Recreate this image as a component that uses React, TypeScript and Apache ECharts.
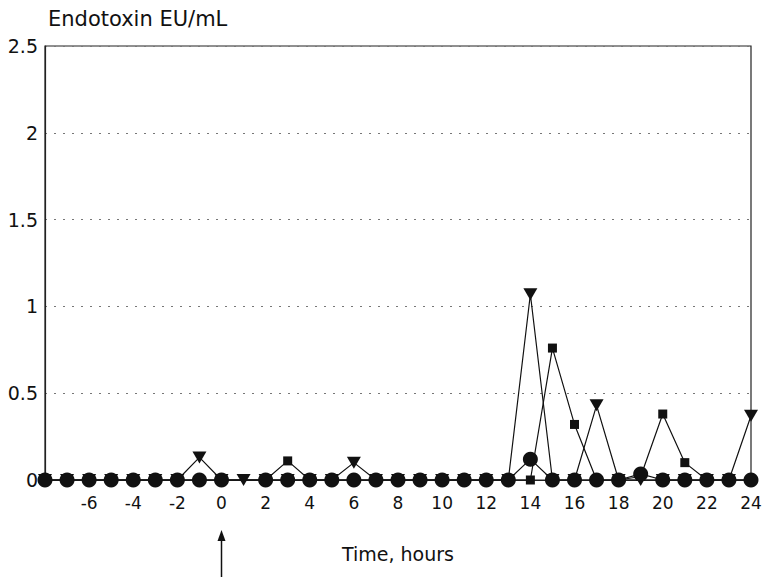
import React, { useEffect, useRef } from "react";
import * as echarts from "echarts";

const hours = [-8, -7, -6, -5, -4, -3, -2, -1, 0, 1, 2, 3, 4, 5, 6, 7, 8, 9, 10, 11, 12, 13, 14, 15, 16, 17, 18, 19, 20, 21, 22, 23, 24];
// circles
const seriesCircle = [0, 0, 0, 0, 0, 0, 0, 0, 0, null, 0, 0, 0, 0, 0, 0, 0, 0, 0, 0, 0, 0, 0.12, 0, 0, 0, 0, 0.035, 0, 0, 0, 0, 0];
// squares
const seriesSquare = [0, 0, 0, 0, 0, 0, 0, 0, 0, null, 0, 0.11, 0, 0, 0, 0, 0, 0, 0, 0, 0, 0, 0, 0.76, 0.32, 0, 0, 0.02, 0.38, 0.1, 0, 0, 0];
// triangles
const seriesTriangle = [0, 0, 0, 0, 0, 0, 0, 0.13, 0, 0, 0, 0, 0, 0, 0.1, 0, 0, 0, 0, 0, 0, 0, 1.07, 0, 0, 0.43, 0, 0, 0, 0, 0, 0, 0.37];

const yTicks = [0, 0.5, 1, 1.5, 2, 2.5];
const xLabelsShown = [-6, -4, -2, 0, 2, 4, 6, 8, 10, 12, 14, 16, 18, 20, 22, 24];

const FONT = "'DejaVu Sans', 'Liberation Sans', Arial, sans-serif";

export default function App() {
  const ref = useRef<HTMLDivElement>(null);
  useEffect(() => {
    if (!ref.current) return;
    const chart = echarts.init(ref.current, null, { renderer: "svg" });
    const pair = (arr: (number | null)[]) => hours.map((h, i) => [h, arr[i]]);
    const lineStyle = { color: "#111", width: 1.2 };
    chart.setOption({
      animation: false,
      backgroundColor: "#fff",
      title: {
        text: "Endotoxin EU/mL",
        left: 43,
        top: 3,
        textStyle: { fontFamily: FONT, fontSize: 21, fontWeight: "normal", color: "#111" },
      },
      grid: {
        left: 45,
        right: 14,
        top: 46,
        bottom: 98,
        show: true,
        borderColor: "#222",
        borderWidth: 1.2,
        backgroundColor: "transparent",
      },
      xAxis: {
        type: "value",
        min: -8,
        max: 24,
        interval: 2,
        name: "Time, hours",
        nameLocation: "middle",
        nameGap: 64,
        nameTextStyle: { fontFamily: FONT, fontSize: 19, color: "#111" },
        axisLine: { show: true, onZero: false, lineStyle: { color: "#222", width: 1.2 } },
        axisTick: { show: false },
        splitLine: { show: false },
        axisLabel: {
          margin: 14,
          fontFamily: FONT,
          fontSize: 17,
          color: "#111",
          formatter: (v: number) => (xLabelsShown.includes(v) ? String(v) : ""),
        },
      },
      yAxis: {
        type: "value",
        min: yTicks[0],
        max: yTicks[yTicks.length - 1],
        interval: 0.5,
        axisLine: { show: true, onZero: false, lineStyle: { color: "#222", width: 1.2 } },
        axisTick: { show: false },
        axisLabel: {
          margin: 7,
          fontFamily: FONT,
          fontSize: 19,
          color: "#111",
        },
        splitLine: {
          show: true,
          lineStyle: { color: "#777", type: [2, 7], width: 1 },
        },
      },
      series: [
        {
          name: "Squares",
          type: "line",
          data: pair(seriesSquare),
          symbol: "rect",
          symbolSize: 9,
          connectNulls: true,
          lineStyle,
          itemStyle: { color: "#111" },
          z: 2,
        },
        {
          name: "Triangles",
          type: "line",
          data: pair(seriesTriangle),
          symbol: "triangle",
          symbolSize: [14, 12],
          symbolRotate: 180,
          connectNulls: true,
          lineStyle,
          itemStyle: { color: "#111" },
          z: 3,
        },
        {
          name: "Circles",
          type: "line",
          data: pair(seriesCircle),
          symbol: "circle",
          symbolSize: 15,
          connectNulls: true,
          lineStyle,
          itemStyle: { color: "#111" },
          z: 4,
        },
      ],
    });
    const px = chart.convertToPixel({ xAxisIndex: 0 }, 0) as number;
    chart.setOption({
      graphic: [
        {
          type: "line",
          shape: { x1: px, y1: 536, x2: px, y2: 577 },
          style: { stroke: "#111", lineWidth: 1.5 },
        },
        {
          type: "polygon",
          shape: { points: [[px - 4, 541], [px + 4, 541], [px, 530]] },
          style: { fill: "#111" },
        },
      ],
    });
    return () => chart.dispose();
  }, []);
  return <div ref={ref} style={{ width: 765, height: 578, position: "absolute", left: 0, top: 0 }} />;
}
